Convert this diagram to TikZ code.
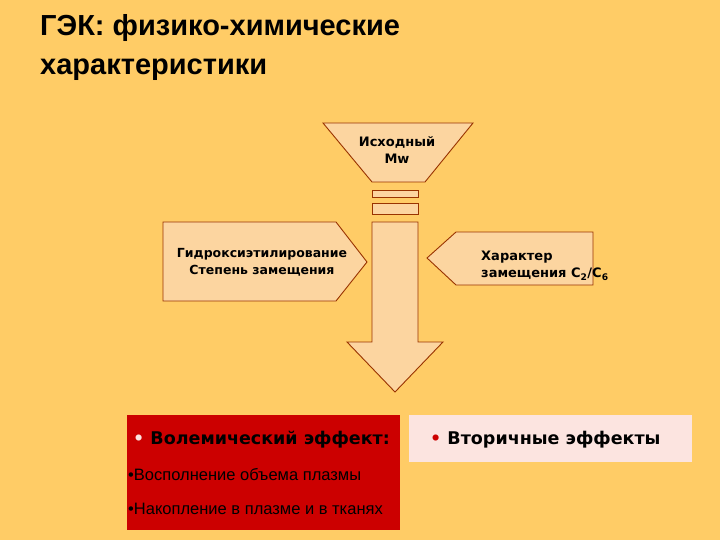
\documentclass[tikz,border=0pt]{standalone}
\usepackage{fontspec}
\setmainfont{DejaVu Sans}
\newfontfamily\lib{Liberation Sans}
\definecolor{bg}{HTML}{FFCC66}
\definecolor{shp}{HTML}{FCD5A0}
\definecolor{edge}{HTML}{993300}
\definecolor{redb}{HTML}{CC0000}
\definecolor{pinkb}{HTML}{FCE4E0}
\begin{document}
\begin{tikzpicture}[x=1pt,y=-1pt,
  sh/.style={fill=shp,draw=edge,line width=0.9pt},
  lbl/.style={font=\fontsize{13}{17}\selectfont\bfseries,align=center,inner sep=0}]
\fill[bg] (0,0) rectangle (720,540);
\useasboundingbox (0,0) rectangle (720,540);
\node[anchor=north west,align=left,font=\lib\fontsize{29}{39}\selectfont\bfseries,inner sep=0] (title) at (40,14) {ГЭК: физико-химические\\характеристики};
\draw[sh] (323,123) -- (473,123) -- (425,182) -- (372,182) -- cycle;
\node[lbl] (mw) at (397,150) {Исходный\\Mw};
\draw[sh] (372,190) rectangle (418,197);
\draw[sh] (372,203) rectangle (418,214);
\draw[sh] (372,222) -- (418,222) -- (418,342) -- (443,342) -- (395,392) -- (347,342) -- (372,342) -- cycle;
\draw[sh] (163,222) -- (336,222) -- (367,262) -- (336,301) -- (163,301) -- cycle;
\node[lbl,font=\fontsize{12.5}{17}\selectfont\bfseries] (left) at (262,262) {Гидроксиэтилирование\\Степень замещения};
\draw[sh] (456,232) -- (593,232) -- (593,285) -- (456,285) -- (427,258) -- cycle;
\node[lbl,align=left,anchor=west] (right) at (481,266) {Характер\\замещения C\textsubscript{2}/C\textsubscript{6}};
\fill[redb] (127,415) rectangle (400,530);
\fill[pinkb] (409,415) rectangle (692,462);
\node[anchor=west,font=\fontsize{17.5}{20}\selectfont\bfseries,inner sep=0] (vol) at (133,440) {{\color{pinkb}\textbullet}\ Волемический эффект:};
\node[anchor=west,font=\fontsize{17.5}{20}\selectfont\bfseries,inner sep=0] (sec) at (430,440) {{\color{redb}\textbullet}\ Вторичные эффекты};
\node[anchor=west,font=\lib\fontsize{16.5}{18}\selectfont,inner sep=0] (b1) at (128,475) {•Восполнение объема плазмы};
\node[anchor=west,font=\lib\fontsize{16.5}{18}\selectfont,inner sep=0] (b2) at (128,509) {•Накопление в плазме и в тканях};
\end{tikzpicture}
\end{document}
